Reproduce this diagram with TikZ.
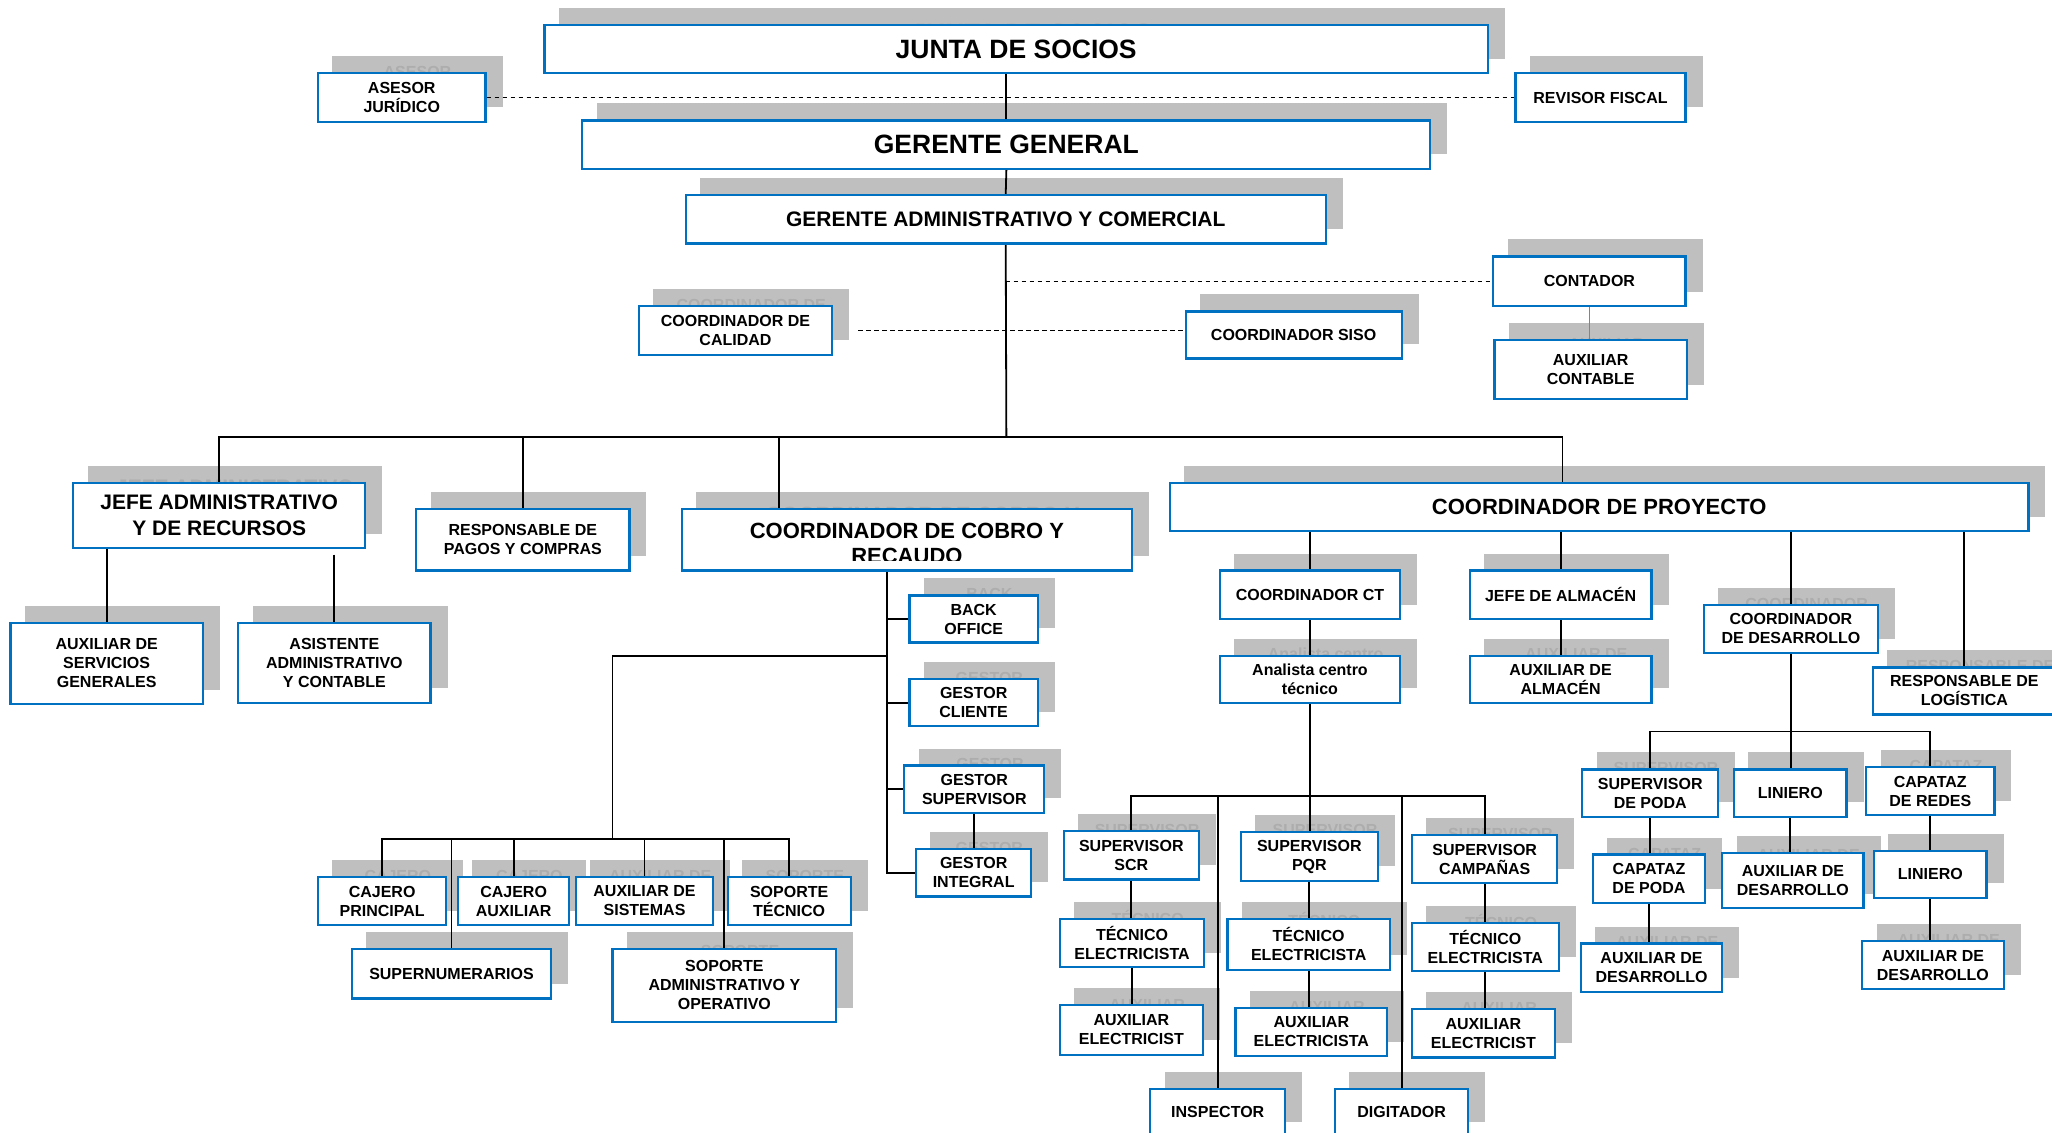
\documentclass[tikz,border=0pt]{standalone}
\usepackage{fontspec}
\setmainfont{Liberation Sans}
\usetikzlibrary{fit,calc}

\definecolor{azulcaja}{HTML}{0070C0}
\definecolor{grissombra}{HTML}{BFBFBF}
\definecolor{gristexto}{HTML}{ADADAD}
\definecolor{grisfino}{HTML}{7A8597}

\pgfdeclarelayer{sombras}
\pgfdeclarelayer{cajas}
\pgfsetlayers{sombras,main,cajas}

\tikzset{
  caja/.style={draw=azulcaja,line width=2.2pt,fill=white,inner sep=0pt},
  texto/.style={align=center,inner sep=0pt},
  chico/.style={font=\bfseries\fontsize{16}{19}\selectfont},
  medio/.style={font=\bfseries\fontsize{21}{26}\selectfont},
  grande/.style={font=\bfseries\fontsize{22}{25}\selectfont},
  enorme/.style={font=\bfseries\fontsize{26.5}{30}\selectfont},
  linea/.style={line width=1.8pt},
  punteado/.style={line width=1.3pt,dash pattern=on 4.5pt off 3.5pt},
  fina/.style={line width=1pt,draw=grisfino}
}

% cargo: sombra gris + caja azul con su texto
\newcommand{\puesto}[7][chico]{%
  \begin{pgfonlayer}{sombras}
    \fill[grissombra] (#3+11,#4-13) rectangle (#5+13,#6-11);
    \begin{scope}
      \clip (#3+11,#4-13) rectangle (#5+13,#6-11);
      \node[texto,#1,text=gristexto] (#2-s) at ({(#3+#5)/2+12},{(#4+#6)/2-12}) {#7};
    \end{scope}
  \end{pgfonlayer}
  \begin{pgfonlayer}{cajas}
    \node[caja,fit={(#3,#4) (#5,#6)}] (#2) {};
    \node[texto,#1] (#2-t) at (#2.center) {#7};
  \end{pgfonlayer}
}

\begin{document}
\begin{tikzpicture}[x=1.3087pt,y=-1.3087pt]
  \useasboundingbox (0,0) rectangle (1568,865);
  \begin{pgfonlayer}{sombras}
    \fill[white] (0,0) rectangle (1568,865);
  \end{pgfonlayer}

  %junta y gerencia
  \puesto[enorme]{junta}{416}{19}{1137}{56}{JUNTA DE SOCIOS}
  \puesto{asesor}{243}{56}{371}{93}{ASESOR\\JURÍDICO}
  \puesto{revisor}{1158}{56}{1288}{93}{REVISOR FISCAL}
  \puesto[enorme]{gerente}{445}{92}{1093}{129}{GERENTE GENERAL}
  \puesto[medio]{geradm}{524}{149}{1013}{186}{GERENTE ADMINISTRATIVO Y COMERCIAL}
  \puesto{contador}{1141}{196}{1288}{234}{CONTADOR}
  \puesto{auxcont}{1142}{260}{1289}{305}{AUXILIAR\\CONTABLE}
  \puesto{calidad}{488}{234}{636}{271}{COORDINADOR DE\\CALIDAD}
  \puesto{siso}{906}{238}{1071}{274}{COORDINADOR SISO}

  %segundo nivel
  \puesto[medio]{jefe}{56}{369}{279}{419}{JEFE ADMINISTRATIVO\\Y DE RECURSOS}
  \puesto{pagos}{318}{389}{481}{436}{RESPONSABLE DE\\PAGOS Y COMPRAS}
  \puesto[grande]{proyecto}{894}{369}{1550}{406}{COORDINADOR DE PROYECTO}
  \begin{pgfonlayer}{sombras}
    \fill[grissombra] (532,376) rectangle (878,425);
    \begin{scope}
      \clip (532,376) rectangle (878,425);
      \node[texto,grande,text=gristexto] (cobro-s) at (705,403) {COORDINADOR DE COBRO Y\\RECAUDO};
    \end{scope}
  \end{pgfonlayer}
  \begin{pgfonlayer}{cajas}
    \node[caja,fit={(521,389) (865,436)}] (cobro) {};
    \begin{scope}
      \clip (521,389) rectangle (865,428);
      \node[texto,grande] (cobro-t) at (693,415.5) {COORDINADOR DE COBRO Y\\RECAUDO};
    \end{scope}
  \end{pgfonlayer}

  %administrativo
  \puesto{auxserv}{8}{476}{155}{538}{AUXILIAR DE\\SERVICIOS\\GENERALES}
  \puesto{asistente}{182}{476}{329}{537}{ASISTENTE\\ADMINISTRATIVO\\Y CONTABLE}

  %cobro y recaudo
  \puesto{back}{695}{455}{793}{491}{BACK\\OFFICE}
  \puesto{gcliente}{695}{519}{793}{555}{GESTOR\\CLIENTE}
  \puesto{gsuper}{691}{585}{798}{621}{GESTOR\\SUPERVISOR}
  \puesto{gintegral}{700}{649}{788}{685}{GESTOR\\INTEGRAL}
  \puesto{cajerop}{243}{670}{341}{707}{CAJERO\\PRINCIPAL}
  \puesto{cajeroa}{350}{670}{435}{707}{CAJERO\\AUXILIAR}
  \puesto{auxsis}{440}{670}{545}{707}{AUXILIAR DE\\SISTEMAS}
  \puesto{soptec}{556}{670}{650}{707}{SOPORTE\\TÉCNICO}
  \puesto{supernum}{269}{725}{421}{763}{SUPERNUMERARIOS}
  \puesto{sopadm}{468}{725}{639}{781}{SOPORTE\\ADMINISTRATIVO Y\\OPERATIVO}

  %proyecto
  \puesto{coordct}{932}{436}{1070}{473}{COORDINADOR CT}
  \puesto{jefealm}{1123}{436}{1262}{473}{JEFE DE ALMACÉN}
  \puesto{analista}{932}{501}{1070}{537}{Analista centro\\técnico}
  \puesto{auxalm}{1123}{501}{1262}{537}{AUXILIAR DE\\ALMACÉN}
  \puesto{coorddes}{1302}{462}{1435}{499}{COORDINADOR\\DE DESARROLLO}
  \puesto{logistica}{1431}{510}{1571}{546}{RESPONSABLE DE\\LOGÍSTICA}
  \puesto{supscr}{813}{635}{916}{672}{SUPERVISOR\\SCR}
  \puesto{suppqr}{948}{636}{1053}{673}{SUPERVISOR\\PQR}
  \puesto{supcamp}{1079}{638}{1190}{675}{SUPERVISOR\\CAMPAÑAS}
  \puesto{tecscr}{810}{702}{920}{739}{TÉCNICO\\ELECTRICISTA}
  \puesto{tecpqr}{938}{702}{1062}{741}{TÉCNICO\\ELECTRICISTA}
  \puesto{teccamp}{1079}{705}{1191}{742}{TÉCNICO\\ELECTRICISTA}
  \puesto{auxscr}{810}{768}{919}{806}{AUXILIAR\\ELECTRICIST}
  \puesto{auxpqr}{944}{770}{1060}{807}{AUXILIAR\\ELECTRICISTA}
  \puesto{auxcamp}{1079}{771}{1188}{808}{AUXILIAR\\ELECTRICIST}
  \puesto{inspector}{879}{832}{982}{868}{INSPECTOR}
  \puesto{digitador}{1020}{832}{1122}{868}{DIGITADOR}
  \puesto{suppoda}{1209}{588}{1313}{624}{SUPERVISOR\\DE PODA}
  \puesto{liniero}{1325}{588}{1411}{624}{LINIERO}
  \puesto{capredes}{1426}{586}{1524}{623}{CAPATAZ\\DE REDES}
  \puesto{cappoda}{1217}{653}{1303}{690}{CAPATAZ\\DE PODA}
  \puesto{auxdes}{1316}{652}{1424}{694}{AUXILIAR DE\\DESARROLLO}
  \puesto{linierob}{1432}{650}{1518}{686}{LINIERO}
  \puesto{auxpoda}{1208}{721}{1316}{758}{AUXILIAR DE\\DESARROLLO}
  \puesto{auxredes}{1423}{719}{1531}{756}{AUXILIAR DE\\DESARROLLO}

  %lineas de mando
  \coordinate (troncoA) at (769,334);
  \coordinate (ramaCobro) at (595,334);
  \coordinate (ramaProy) at (1194,334);
  \draw[linea] (gerente.north |- junta.south) -- (gerente.north);
  \draw[linea] (gerente.south) -- (geradm.north);
  \draw[linea] (geradm.south) -- (troncoA);
  \draw[linea] (jefe.north) |- (ramaProy) -- (ramaProy |- proyecto.north);
  \draw[linea] (pagos.north |- troncoA) -- (pagos.north);
  \draw[linea] (ramaCobro) -- (ramaCobro |- cobro.north);
  %asesorias
  \draw[punteado] (asesor.east) -- (revisor.west);
  \draw[punteado] (geradm.south |- contador.west) -- (contador.west);
  \draw[punteado] ($(calidad.east)+(19,0)$) -- (calidad.east -| siso.west);
  \draw[fina] (contador.south) -- (contador.south |- auxcont.north);

  %jefe administrativo
  \draw[linea] (jefe.south -| auxserv.north) -- (auxserv.north);
  \draw[linea] ($(jefe.south -| asistente.north)+(0,4)$) -- (asistente.north);

  %cobro
  \coordinate (ejeCobro) at (678,436);
  \coordinate (codoCaja) at (678,501);
  \coordinate (busCaja) at (468,641);
  \draw[linea] (ejeCobro) -- (ejeCobro |- gintegral.west) -- (gintegral.west);
  \foreach \n in {back,gcliente,gsuper}
    \draw[linea] (ejeCobro |- \n.west) -- (\n.west);
  \draw[linea] (gsuper.south) -- (gsuper.south |- gintegral.north);
  \draw[linea] (codoCaja) -| (busCaja);
  \draw[linea] (cajerop.north) |- (busCaja) -| (soptec.north);
  \foreach \n in {cajeroa,auxsis,supernum,sopadm}
    \draw[linea] (\n.north |- busCaja) -- (\n.north);

  %proyecto
  \foreach \n in {coordct,jefealm,coorddes,logistica}
    \draw[linea] (proyecto.south -| \n.north) -- (\n.north);
  \draw[linea] (coordct.south) -- (analista.north);
  \draw[linea] (jefealm.south) -- (jefealm.south |- auxalm.north);
  \coordinate (busCT) at (1001,608);
  \draw[linea] (analista.south) -- (analista.south |- suppqr.north);
  \draw[linea] (supscr.north) |- (busCT) -| (supcamp.north);
  \foreach \n in {inspector,digitador}
    \draw[linea] (\n.north |- busCT) -- (\n.north);
  \coordinate (busDes) at (1368,559);
  \draw[linea] (coorddes.south) -- (coorddes.south |- liniero.north);
  \draw[linea] (suppoda.north) |- (busDes) -| (capredes.north);
  \foreach \a/\b in {supscr/tecscr,tecscr/auxscr,suppqr/tecpqr,tecpqr/auxpqr,
      supcamp/teccamp,teccamp/auxcamp,suppoda/cappoda,cappoda/auxpoda,
      liniero/auxdes,capredes/linierob,linierob/auxredes}
    \draw[linea] (\a.south) -- (\a.south |- \b.north);
\end{tikzpicture}
\end{document}
